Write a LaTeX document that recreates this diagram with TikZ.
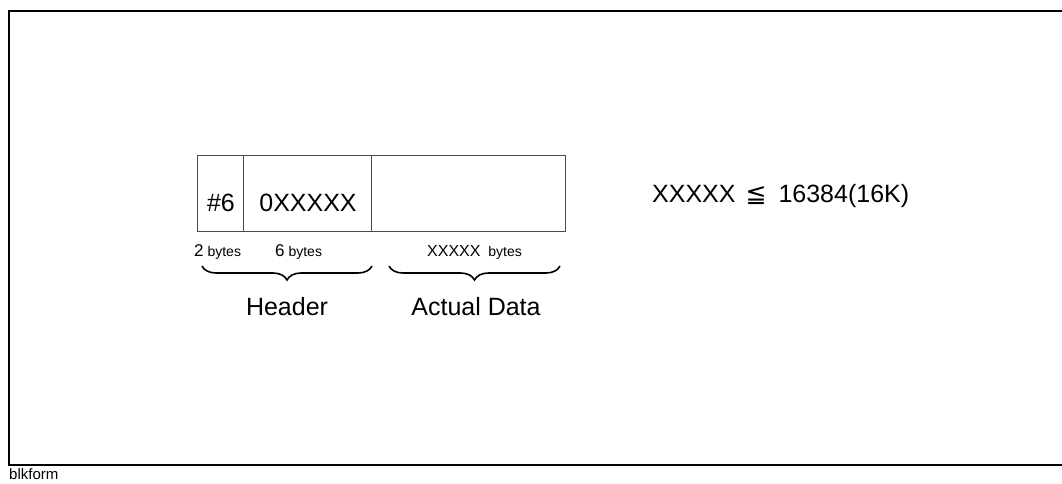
\documentclass[tikz,border=0pt]{standalone}
\usepackage{fontspec}
\setmainfont{Liberation Sans}
\newfontfamily\symfont{DejaVu Sans}
\usetikzlibrary{decorations.pathreplacing}
\begin{document}
\begin{tikzpicture}[x=1pt,y=-1pt,
  cell/.style={draw=black!70,line width=0.9pt},
  brc/.style={decorate,decoration={brace,mirror,amplitude=14pt},line width=1.6pt},
  big/.style={font=\fontsize{25}{28}\selectfont,inner sep=0pt},
  lab/.style={font=\fontsize{25}{28}\selectfont,inner sep=0pt},
  small/.style={font=\fontsize{14}{16}\selectfont,inner sep=0pt}]
\useasboundingbox (0,0) rectangle (1062,483);
% frame
\coordinate (ftr) at (1062,11);
\coordinate (ftl) at (9,11);
\coordinate (fbl) at (9,465);
\coordinate (fbr) at (1062,465);
\draw[line width=2.2pt] (ftr) -- (ftl) -- (fbl) -- (fbr);
\node[anchor=north west,inner sep=0pt,font=\fontsize{15}{17}\selectfont] (blk) at (9,468) {blkform};
% boxes
\node[cell,minimum width=46pt,minimum height=76pt,anchor=north west,inner sep=0pt] (c1) at (197,155) {};
\node[cell,minimum width=128pt,minimum height=76pt,anchor=north west,inner sep=0pt] (c2) at (243,155) {};
\node[cell,minimum width=194pt,minimum height=76pt,anchor=north west,inner sep=0pt] (c3) at (371,155) {};
\node[big,anchor=base] (t1) at (221,211) {\#6};
\node[big,anchor=base] (t2) at (308,211) {0XXXXX};
% byte labels
\node[small,anchor=base west] (b1) at (194,256) {{\fontsize{17}{19}\selectfont 2} bytes};
\node[small,anchor=base west] (b2) at (275,256) {{\fontsize{17}{19}\selectfont 6} bytes};
\node[small,anchor=base west] (b3) at (427,256) {{\fontsize{16}{18}\selectfont XXXXX}\ \ bytes};
% braces
\coordinate (h1) at (202,266);
\coordinate (h2) at (372,266);
\coordinate (a1) at (389,266);
\coordinate (a2) at (560,266);
\draw[brc] (h1) -- (h2);
\draw[brc] (a1) -- (a2);
\node[lab,anchor=base] (hdr) at (287,315) {Header};
\node[lab,anchor=base] (act) at (476,315) {Actual Data};
% formula
\node[font=\fontsize{25}{28}\selectfont,inner sep=0pt,anchor=base west] (f) at (652,202) {XXXXX\hspace{10pt}{\symfont\fontsize{25}{28}\selectfont ≦}\hspace{12pt}16384(16K)};
\end{tikzpicture}
\end{document}
